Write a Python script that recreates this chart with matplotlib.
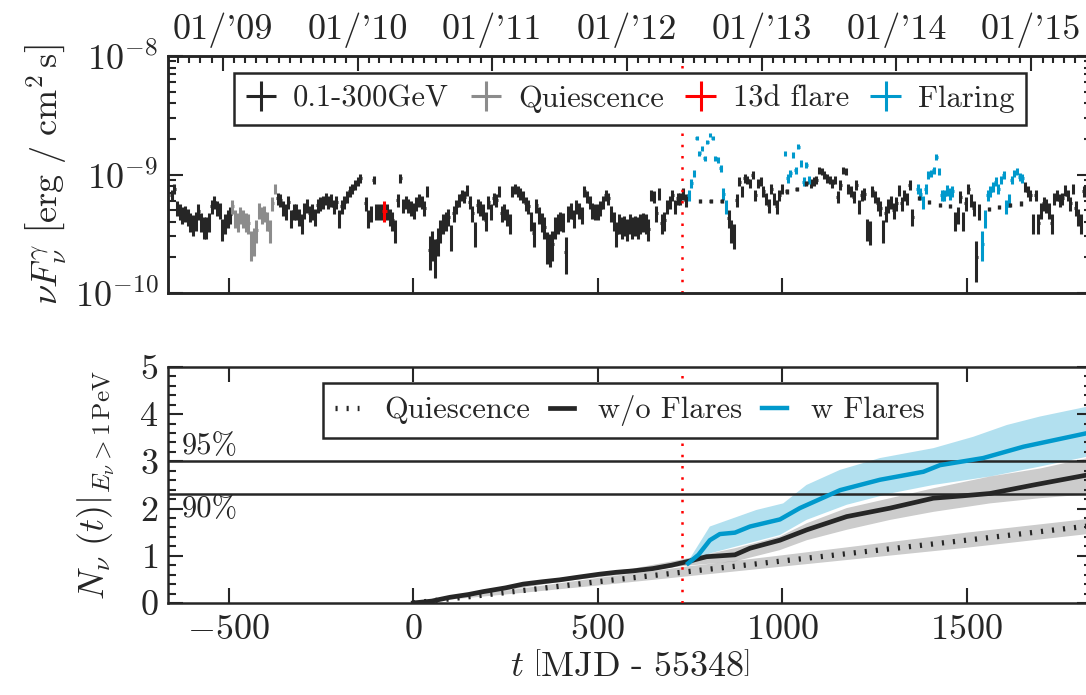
import datetime as dt
import numpy as np
import matplotlib
matplotlib.use('Agg')
import matplotlib.pyplot as plt
from matplotlib.ticker import FixedLocator, MultipleLocator, LogLocator, NullFormatter, NullLocator

plt.rcParams.update({
    'font.family': 'serif',
    'font.serif': ['cmr10'],
    'mathtext.fontset': 'cm',
    'axes.formatter.use_mathtext': True,
    'text.color': '#262626',
    'axes.labelcolor': '#262626',
    'axes.edgecolor': '#262626',
    'xtick.color': '#262626',
    'ytick.color': '#262626',
})

DARK = '#262626'
GREY = '#8c8c8c'
BLUE = '#0099cc'

# ---------- light curve (flux in 1e-10 erg/cm2/s, weekly bins) ----------
BIN = 7.23
ERR = 0.75

LC_A_T0 = -655.5
LC_A = [6.7, 7.6, 5.2, 4.9, 4.6, 4.7, 4.4, 4.0, 3.8, 4.1, 4.9, 4.0, 3.6, 3.6,
        4.0, 5.4, 5.9, 5.2, 5.0, 3.5, 3.9, 4.3, 4.6]

QUIET_T0 = -491.0
QUIET = [5.4, 4.3, 4.0, 4.6, 4.3, 4.0, 3.9, 2.6, 2.8, 3.4, 5.0, 4.6, 4.7, 4.1,
         3.4, 5.7, 7.6]

LC_B_T0 = -367.9
LC_B = [6.3, 6.1, 5.2, 4.9, 5.9, 4.3, 4.9, 4.9, 4.4, 3.9,
        5.0, 5.5, 4.7, 4.9, 4.4, 5.5, 5.7, 5.9, 6.3, 5.9,
        6.1, 5.4, 5.9, 4.3, 5.4, 5.9, 6.5, 7.2, 7.6, 8.2,
        8.7, 9.3, np.nan, 5.7, 4.3, 4.7, 9.0, 4.9, 4.9, 4.9,
        np.nan, 4.9, 4.4, 4.1, 3.4, 6.1, 9.3, 5.5, 5.9, 5.5,
        5.2, 5.0, 5.7, 6.1, 5.9, 5.2, 7.2, 2.3, 2.6, 2.1,
        2.8, 3.4, 3.9, 4.1, 4.4, 3.0, 4.7, 5.4, 6.1, 6.7,
        6.5, 7.4, 5.9, 4.7,
        3.2, 5.5, 5.2, 4.9, 4.1, 5.9, 4.9, 6.3, 6.1, 7.2,
        4.7, 4.9, 4.4, 3.9, 7.2, 7.6, 7.2, 6.9, 6.5, 5.7,
        5.4, 4.1, 3.2, 5.5, 4.55, 4.0, 3.6, 2.5, 2.4, 2.6,
        3.6, 3.9, 4.1, 4.0, 2.2, 4.7, 5.0, 4.3, 5.4, 5.0,
        4.55, 7.2, 6.5, 5.9, 5.0, 4.9, 4.9, 5.2, 5.9, 6.7,
        6.3, 4.7, 4.1, 3.2, 3.9, 3.6, 3.75, 3.5, 3.9, 3.6,
        3.75, 3.6, 3.9, 4.0, 3.9, 3.5, 6.7, 6.5, 4.7, 6.9,
        3.9, 4.1, 5.4, 5.9, 6.7, 5.4, 6.3, 6.3, 6.9, 6.1]

LC_C_T0 = 854.9
LC_C = [4.3, 3.4, 3.1, 6.1, 8.7, 7.2, 9.3, 9.0, 8.4, 9.9, 6.7, 8.4, 8.7, 7.2,
        6.3, 5.5, 7.6, 6.3, 5.4, 6.7, 7.6]

LC_D_T0 = 1078.1
LC_D = [8.4, 8.7, 9.0, 10.9, 10.6, 9.9, 9.3, 9.0, 8.4, 9.0,
        6.5, 8.2, 10.9, 10.6, 7.6, 7.2, 6.5, 8.2, 5.4, 6.7,
        6.9, 3.5, 3.3, 7.2, 6.5, 5.7, 5.2, 3.4, 4.7, 5.5,
        5.9, 5.0, 5.7, 7.4, 5.7, 6.7, 6.3, 8.2, 4.4]

LC_E_T0 = 1468.5
LC_E = [4.1, 4.55, 6.5, 4.1, 5.7, 7.6, 6.1, 5.2, 2.0, 4.9]

LC_F_T0 = 1658.4
LC_F = [7.9, 7.2, 6.7, 3.9, 6.7, 3.9, 5.0, 5.7, 5.5, 5.0, 3.9, 6.3, 6.7, 6.1,
        6.3, 7.4, 6.7, 5.7, 7.6, 5.2, 4.4, 3.9, 7.2]

FLARE1_T0 = 746.4
FLARE1 = [6.7, 8.4, 10.2, 20.2, 15.1, 16.6, 13.7, 18.9, 21.5, 20.2, 13.7, 13.3,
          11.3, 6.9, 5.4]
FLARE2_T0 = 1007.6
FLARE2 = [15.1, 9.3, 10.2, 14.6, 10.9, 17.2, 12.4, 8.7, 12.0, 9.0]
FLARE3_T0 = 1367.3
FLARE3 = [7.6, 6.9, 5.9, 7.6, 9.9, 10.2, 10.9, 14.1, 10.6, 6.7, 6.7, 7.4, 6.9, 7.2]
FLARE4_T0 = 1542.7
FLARE4 = [2.6, 4.3, 6.7, 7.2, 7.9, 8.7, 7.6, 9.0, 9.9, 5.4, 6.1, 9.0, 10.2, 10.6,
          9.6, 9.3]

# quiescent level during flaring periods
DASH_T = [777, 806, 836, 1012, 1039, 1066, 1371, 1398, 1428, 1455, 1561, 1588, 1618, 1648]
DASH_F = [6.0, 6.0, 6.0, 7.2, 7.6, 8.4, 6.3, 5.9, 5.5, 5.4, 5.1, 5.3, 5.5, 5.7]

RED_T = [-79.0]
RED_F = [4.9]
RED_LO = [4.0]
RED_HI = [6.0]

# ---------- neutrino counts ----------
QUI_T = [0, 250, 500, 750, 1000, 1250, 1500, 1840]
QUI_N = [0, 0.22, 0.45, 0.67, 0.89, 1.11, 1.33, 1.64]
QUI_LO = [0, 0.18, 0.37, 0.57, 0.77, 0.97, 1.17, 1.47]
QUI_HI = [0, 0.26, 0.53, 0.78, 1.01, 1.25, 1.49, 1.79]

NOFL_T = [0, 50, 99, 150, 189, 250, 298, 350, 397, 450, 505, 550, 596, 650, 700,
          728, 750, 795, 872, 913, 994, 1067, 1175, 1293, 1410, 1490, 1564, 1682, 1840]
NOFL_N = [0, 0.04, 0.12, 0.18, 0.24, 0.32, 0.40, 0.45, 0.49, 0.55, 0.61, 0.65, 0.68,
          0.73, 0.80, 0.85, 0.89, 0.98, 1.02, 1.16, 1.33, 1.55, 1.83, 2.01, 2.22,
          2.27, 2.32, 2.50, 2.73]
NOFL_BT = [0, 200, 397, 596, 728, 872, 994, 1067, 1175, 1293, 1410, 1564, 1700, 1840]
NOFL_LO = [0, 0.20, 0.45, 0.63, 0.78, 0.88, 1.12, 1.33, 1.55, 1.76, 1.93, 2.11, 2.22, 2.31]
NOFL_HI = [0, 0.29, 0.53, 0.73, 0.92, 1.16, 1.41, 1.69, 2.01, 2.22, 2.43, 2.68, 2.85, 3.09]

FL_T = [745, 773, 804, 831, 872, 913, 994, 1048, 1157, 1265, 1383, 1428, 1545, 1654, 1840]
FL_N = [0.84, 1.02, 1.33, 1.46, 1.49, 1.62, 1.77, 2.01, 2.39, 2.61, 2.78, 2.92, 3.07,
        3.31, 3.62]
FL_UP_T = [745, 804, 840, 930, 1003, 1066, 1157, 1265, 1410, 1518, 1609, 1699, 1840]
FL_UP = [0.88, 1.62, 1.72, 1.97, 2.11, 2.50, 2.82, 3.07, 3.28, 3.52, 3.77, 3.95, 4.18]
FL_LO_T = [745, 804, 872, 994, 1066, 1175, 1293, 1410, 1564, 1699, 1840]
FL_LO = [0.78, 1.05, 1.19, 1.44, 1.76, 2.08, 2.32, 2.50, 2.68, 2.89, 3.12]

CL_LEVELS = [3.0, 2.3]
T_FLARE_START = 728
XLIM = (-665, 1840)

# ---------- figure ----------
fig = plt.figure(figsize=(10.86, 6.95), dpi=100)
ax1 = fig.add_axes([0.1547, 0.5784, 0.8508, 0.3410])
ax2 = fig.add_axes([0.1547, 0.1324, 0.8508, 0.3396])


def lc(ax, t0, vals, color, err=ERR, xerr=BIN / 2, lw=2.2):
    t = t0 + BIN * np.arange(len(vals))
    f = np.asarray(vals, float) * 1e-10
    return ax.errorbar(t, f, xerr=xerr, yerr=err * 1e-10, fmt='none',
                       ecolor=color, elinewidth=lw, capsize=0)


h_all = lc(ax1, LC_A_T0, LC_A, DARK)
for t0, v in [(LC_B_T0, LC_B), (LC_C_T0, LC_C), (LC_D_T0, LC_D),
              (LC_E_T0, LC_E), (LC_F_T0, LC_F)]:
    lc(ax1, t0, v, DARK)
h_q = lc(ax1, QUIET_T0, QUIET, GREY)
h_fl = lc(ax1, FLARE1_T0, FLARE1, BLUE)
for t0, v in [(FLARE2_T0, FLARE2), (FLARE3_T0, FLARE3), (FLARE4_T0, FLARE4)]:
    lc(ax1, t0, v, BLUE)
ax1.errorbar(DASH_T, np.array(DASH_F) * 1e-10, xerr=3.5,
             yerr=np.array(DASH_F) * 0.04e-10, fmt='none', ecolor=DARK,
             elinewidth=2.4, capsize=0)
rf = np.array(RED_F)
h_red = ax1.errorbar(RED_T, rf * 1e-10, xerr=6.5,
                     yerr=[(rf - np.array(RED_LO)) * 1e-10, (np.array(RED_HI) - rf) * 1e-10],
                     fmt='none', ecolor='red', elinewidth=2.2, capsize=0)

ax1.axvline(T_FLARE_START, color='red', lw=1.8, ls=(0, (1, 3.5)))
ax1.set_yscale('log')
ax1.set_ylim(1e-10, 1e-8)
ax1.set_xlim(*XLIM)
ax1.xaxis.set_major_locator(MultipleLocator(500))
ax1.xaxis.set_minor_locator(NullLocator())
ax1.yaxis.set_minor_locator(LogLocator(base=10, subs=np.arange(2, 10)))
ax1.yaxis.set_minor_formatter(NullFormatter())
ax1.tick_params(axis='x', which='both', direction='in', bottom=True, top=False,
                labelbottom=False, length=11, width=1.5)
ax1.tick_params(axis='y', which='major', direction='in', left=True, right=True,
                length=11, width=1.5, labelsize=26, pad=7)
ax1.tick_params(axis='y', which='minor', direction='in', left=True, right=True,
                length=5.5, width=1.5)
ax1.set_ylabel(r'$\nu F_\nu^\gamma\ \left[\mathrm{erg}\ /\ \mathrm{cm}^2\,\mathrm{s}\right]$',
               fontsize=26)

leg1 = ax1.legend([h_all, h_q, h_red, h_fl],
                  ['0.1-300GeV', 'Quiescence', '13d flare', 'Flaring'],
                  loc='upper center', bbox_to_anchor=(0.5, 0.928), borderaxespad=0,
                  ncol=4, fontsize=22, frameon=True, fancybox=False, framealpha=1,
                  edgecolor=DARK, handlelength=1.0, handletextpad=0.55,
                  columnspacing=0.7)
leg1.get_frame().set_linewidth(1.8)

# top axis with calendar dates
MJD0 = dt.date(1858, 11, 17)
T_REF = 55348


def to_t(d):
    return (d - MJD0).days - T_REF


years = list(range(2009, 2016))
axd = ax1.twiny()
axd.set_xlim(*XLIM)
axd.xaxis.set_major_locator(FixedLocator([to_t(dt.date(y, 1, 1)) for y in years]))
axd.xaxis.set_minor_locator(FixedLocator(
    [to_t(dt.date(y, m, 1)) for y in range(2008, 2016) for m in range(1, 13)]))
axd.set_xticklabels(["01/'%02d" % (y % 100) for y in years])
axd.tick_params(axis='x', which='major', direction='in', length=11, width=1.5,
                labelsize=26, pad=6)
axd.tick_params(axis='x', which='minor', direction='in', length=5, width=1.5)

# ---------- bottom panel ----------
ax2.fill(np.r_[FL_UP_T, FL_LO_T[::-1]], np.r_[FL_UP, FL_LO[::-1]],
         color=BLUE, alpha=0.3, lw=0, zorder=1)
ax2.fill(np.r_[NOFL_BT, NOFL_BT[::-1]], np.r_[NOFL_HI, NOFL_LO[::-1]],
         color='#808080', alpha=0.4, lw=0, zorder=1)
ax2.fill(np.r_[QUI_T, QUI_T[::-1]], np.r_[QUI_HI, QUI_LO[::-1]],
         color='#808080', alpha=0.4, lw=0, zorder=1)
for lev in CL_LEVELS:
    ax2.axhline(lev, color=DARK, lw=1.8, zorder=2)
ax2.text(-628, CL_LEVELS[0] + 0.02, '95%', fontsize=22, ha='left', va='bottom')
ax2.text(-628, CL_LEVELS[1] - 0.02, '90%', fontsize=22, ha='left', va='top')
l_q, = ax2.plot(QUI_T, QUI_N, color=DARK, lw=3.8, ls=(0, (0.4, 1.7)),
                solid_capstyle='butt', zorder=3)
l_n, = ax2.plot(NOFL_T, NOFL_N, color=DARK, lw=3.4, zorder=3)
l_f, = ax2.plot(FL_T, FL_N, color=BLUE, lw=3.2, zorder=4)
ax2.axvline(T_FLARE_START, color='red', lw=1.8, ls=(0, (1, 3.5)), zorder=5)

ax2.set_xlim(*XLIM)
ax2.set_ylim(0, 5)
ax2.xaxis.set_major_locator(MultipleLocator(500))
ax2.yaxis.set_major_locator(MultipleLocator(1))
ax2.yaxis.set_minor_locator(MultipleLocator(0.2))
ax2.tick_params(axis='x', which='major', direction='in', top=True, bottom=True,
                length=11, width=1.5, labelsize=26, pad=8)
ax2.tick_params(axis='y', which='major', direction='in', left=True, right=True,
                length=11, width=1.5, labelsize=26, pad=7)
ax2.tick_params(axis='y', which='minor', direction='in', left=True, right=True,
                length=5.5, width=1.5)
ax2.set_xlabel(r'$t\ \left[\mathrm{MJD}\ \text{-}\ \mathrm{55348}\right]$', fontsize=26)
ax2.set_ylabel(r'$N_\nu\ (t)|_{E_\nu > 1\,\mathrm{PeV}}$', fontsize=26)
ax2.yaxis.set_label_coords(-0.055, 0.5)

leg2 = ax2.legend([l_q, l_n, l_f], ['Quiescence', 'w/o Flares', 'w Flares'],
                  loc='upper center', bbox_to_anchor=(0.5, 0.932), borderaxespad=0,
                  ncol=3, fontsize=22, frameon=True, fancybox=False, framealpha=1,
                  edgecolor=DARK, handlelength=0.8, handletextpad=0.8,
                  columnspacing=0.65)
leg2.get_frame().set_linewidth(1.8)

for ax in (ax1, ax2, axd):
    for sp in ax.spines.values():
        sp.set_linewidth(1.8)

fig.savefig('out.png', dpi=100)
